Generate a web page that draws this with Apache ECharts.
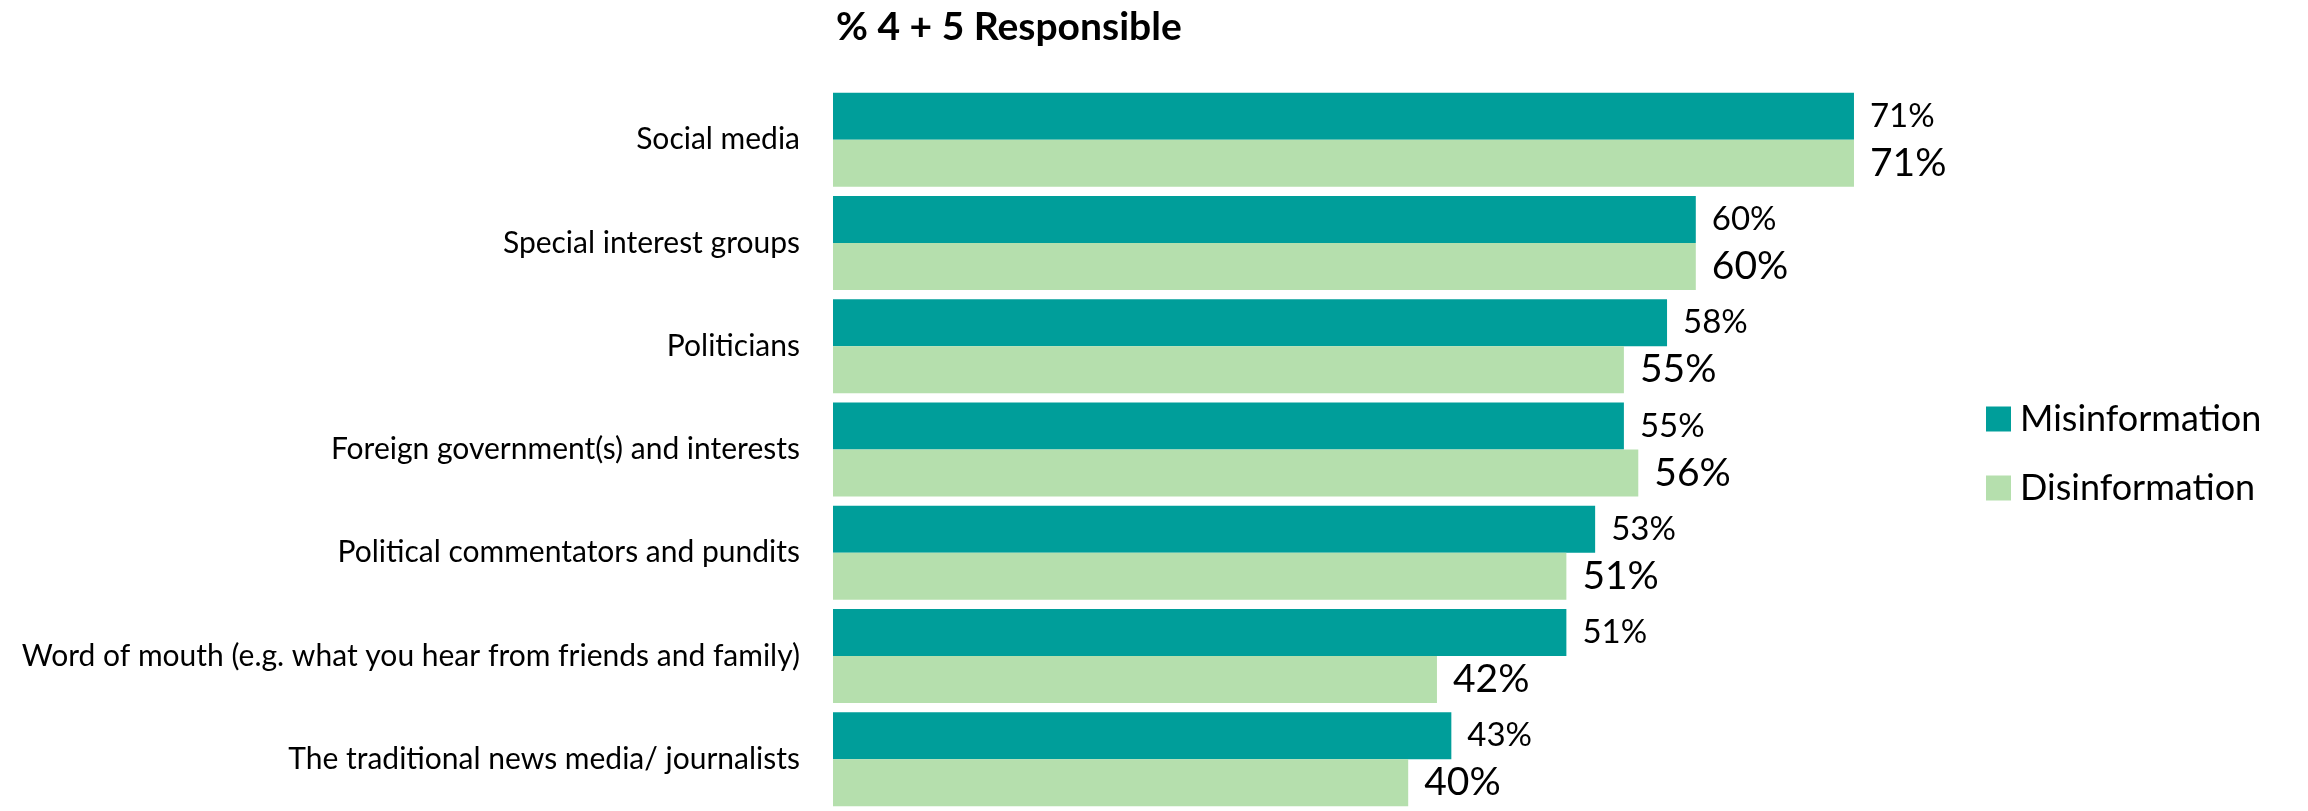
<!DOCTYPE html>
<html><head><meta charset="utf-8">
<script src="https://cdn.jsdelivr.net/npm/echarts@6/dist/echarts.min.js"></script>
<style>html,body{margin:0;padding:0;background:#fff}#c{width:2308px;height:811px}</style>
</head><body><div id="c"></div>
<script>
const categories = ['Social media','Special interest groups','Politicians','Foreign government(s) and interests','Political commentators and pundits','Word of mouth (e.g. what you hear from friends and family)','The traditional news media/ journalists'];
const misinformation = [71,60,58,55,53,51,43];
const disinformation = [71,60,55,56,51,42,40];
const seriesNames = ['Misinformation','Disinformation'];
const titleText = '% 4 + 5 Responsible';

const FONT = 'Lato';
const chart = echarts.init(document.getElementById('c'));
chart.setOption({
  animation:false,
  textStyle:{fontFamily:FONT},
  title:{text:titleText,left:831,top:3,textStyle:{fontFamily:FONT,fontWeight:'bold',fontSize:39,color:'#000'}},
  legend:{orient:'vertical',left:1981,top:396,itemWidth:25,itemHeight:25,itemGap:33,icon:'rect',
    textStyle:{fontFamily:FONT,fontSize:36,color:'#000',padding:[0,0,0,4]},data:seriesNames},
  grid:{left:833,top:88,width:1438,height:731,containLabel:false},
  xAxis:{type:'value',min:0,max:100,show:false},
  yAxis:{type:'category',data:categories,inverse:true,axisLine:{show:false},axisTick:{show:false},
    axisLabel:{fontFamily:FONT,fontSize:30,color:'#000',margin:33}},
  series:[
    {name:seriesNames[0],type:'bar',data:misinformation,barWidth:47,barGap:'0%',
     itemStyle:{color:'#009E9A'},
     label:{show:true,position:'right',distance:16,formatter:'{c}%',fontFamily:FONT,fontSize:33,color:'#000'}},
    {name:seriesNames[1],type:'bar',data:disinformation,barWidth:47,barGap:'0%',
     itemStyle:{color:'#B5DFAD'},
     label:{show:true,position:'right',distance:16,formatter:'{c}%',fontFamily:FONT,fontSize:39,color:'#000'}}
  ]
});
</script></body></html>
